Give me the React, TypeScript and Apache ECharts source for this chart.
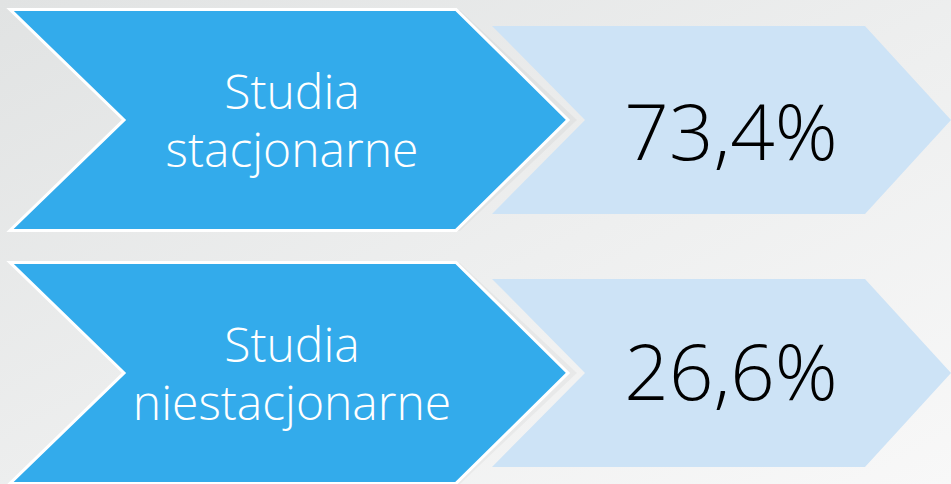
import React, { useEffect, useRef } from "react";
import * as echarts from "echarts";

const categories: string[] = ["Studia\nstacjonarne", "Studia\nniestacjonarne"];
const shares: number[] = [73.4, 26.6];
const valueTextOffsets: number[] = [10, -3];

const DARK = "#33abeb";
const LIGHT = "#cde3f6";

export default function App() {
  const ref = useRef<HTMLDivElement>(null);
  useEffect(() => {
    document.body.style.margin = "0";
    if (!ref.current) return;
    const chart = echarts.init(ref.current, undefined, { renderer: "svg" });
    const data = shares.map((v, i) => [v, i]);
    chart.setOption({
      animation: false,
      backgroundColor: new echarts.graphic.LinearGradient(0, 0, 1, 1, [
        { offset: 0, color: "#e1e3e3" },
        { offset: 0.55, color: "#eeefef" },
        { offset: 1, color: "#f8f8f8" },
      ]),
      grid: { left: 0, right: 0, top: 0, bottom: 0 },
      xAxis: { type: "value", min: 0, max: 100, show: false },
      yAxis: { type: "value", min: -0.474, max: 1.439, inverse: true, show: false },
      series: [
        {
          type: "custom",
          data,
          clip: false,
          renderItem: (params: any, api: any) => {
            const idx = api.value(1);
            const cy = api.coord([0, idx])[1];
            const h = 112;
            const lh = 94;
            const val = shares[idx];
            const txt = val.toFixed(1).replace(".", ",") + "%";
            return {
              type: "group",
              children: [
                {
                  type: "polygon",
                  shape: {
                    points: [
                      [492, cy - lh], [865, cy - lh], [951, cy], [865, cy + lh], [492, cy + lh], [585, cy],
                    ],
                  },
                  style: { fill: LIGHT },
                },
                {
                  type: "polygon",
                  shape: {
                    points: [
                      [300, cy - h + 2], [460, cy - h + 2], [577, cy], [460, cy + h - 1], [300, cy + h - 1],
                    ],
                  },
                  style: { fill: "rgba(0,0,0,0.035)" },
                },
                {
                  type: "polygon",
                  shape: {
                    points: [
                      [10, cy - h + 1.5], [456, cy - h + 1.5], [568, cy], [456, cy + h - 1.5], [10, cy + h - 1.5], [124, cy],
                    ],
                  },
                  style: { fill: DARK, stroke: "#ffffff", lineWidth: 3, lineJoin: "miter" },
                },
                {
                  type: "text",
                  x: 292,
                  y: cy,
                  style: {
                    text: categories[idx],
                    fill: "#ffffff",
                    font: "300 48px 'Open Sans'",
                    lineHeight: 58,
                    align: "center",
                    verticalAlign: "middle",
                  },
                },
                {
                  type: "text",
                  x: 731,
                  y: cy + valueTextOffsets[idx],
                  style: {
                    text: txt,
                    fill: "#000000",
                    font: "300 78px 'Open Sans'",
                    align: "center",
                    verticalAlign: "middle",
                  },
                },
              ],
            };
          },
        },
      ],
    });
    return () => chart.dispose();
  }, []);
  return <div ref={ref} style={{ width: 951, height: 484 }} />;
}
